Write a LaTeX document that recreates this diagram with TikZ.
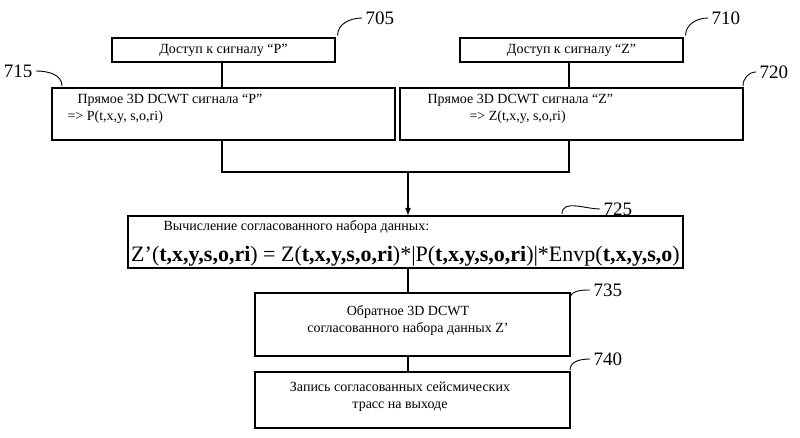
\documentclass[tikz,border=0pt]{standalone}
\usepackage{fontspec}
\setmainfont{Liberation Serif}
\newcommand{\sq}{\char"0027\relax}
\begin{document}
\begin{tikzpicture}[x=1pt,y=-1pt,
  box/.style={draw,line width=1.1pt,inner sep=0pt},
  ln/.style={line width=1.6pt},
  lbl/.style={font=\fontsize{19}{19}\selectfont},
  lead/.style={line width=0.9pt},
  txt/.style={font=\fontsize{14}{17}\selectfont,align=left}]
\useasboundingbox (0,0) rectangle (800,438);
\node[box,minimum width=223pt,minimum height=24pt] (b705) at (223.5,50) {};
\node[txt] at (b705) {Доступ к сигналу “P”};
\node[box,minimum width=223pt,minimum height=24pt] (b710) at (571.5,50) {};
\node[txt] at (b710) {Доступ к сигналу “Z”};
\node[box,minimum width=343pt,minimum height=52pt] (b715) at (223.5,114) {};
\node[txt,anchor=north west] at (64,91) {\hspace{10pt}Прямое 3D DCWT сигнала “P”\\=> P(t,x,y, s,o,ri)};
\node[box,minimum width=343pt,minimum height=52pt] (b720) at (571.5,114) {};
\node[txt,anchor=north west] at (424,91) {Прямое 3D DCWT сигнала “Z”\\\hspace{42pt}=> Z(t,x,y, s,o,ri)};
\node[box,minimum width=555pt,minimum height=52pt] (b725) at (405.5,242) {};
\node[txt,anchor=north west] at (160,217) {Вычисление согласованного набора данных:};
\node[font=\fontsize{22}{22}\selectfont] at (405.5,256) {Z\sq(\textbf{t,x,y,s,o,ri}) = Z(\textbf{t,x,y,s,o,ri})*|P(\textbf{t,x,y,s,o,ri})|*Envp(\textbf{t,x,y,s,o})};
\node[box,minimum width=315pt,minimum height=63pt] (b735) at (412.5,324.5) {};
\node[txt,align=center] at (408,320) {Обратное 3D DCWT\\согласованного набора данных Z\sq};
\node[box,minimum width=315pt,minimum height=56pt] (b740) at (412.5,400) {};
\node[txt,align=center] at (400,397) {Запись согласованных сейсмических\\трасс на выходе};
% connectors
\coordinate (jl) at (222,172); \coordinate (jr) at (569,172); \coordinate (jm) at (408,172);
\draw[ln] (b705.south -| 222,0) -- (b715.north -| 222,0);
\draw[ln] (b710.south -| 569,0) -- (b720.north -| 569,0);
\draw[ln] (b715.south -| 222,0) -- (jl) -- (jr) -- (b720.south -| 569,0);
\draw[ln,-latex] (jm) -- (b725.north -| jm);
\draw[ln] (b725.south -| jm) -- (b735.north -| jm);
\draw[ln] (b735.south -| jm) -- (b740.north -| jm);
% labels
\node[lbl,anchor=west] (l705) at (362,18) {705};
\draw[lead] (b705.north east) ++(2,-2) to[out=90,in=180] (l705.west);
\node[lbl,anchor=west] (l710) at (708,18) {710};
\draw[lead] (b710.north east) ++(2,-2) to[out=90,in=180] (l710.west);
\node[lbl,anchor=east] (l715) at (36,71) {715};
\draw[lead] (l715.east) to[out=0,in=90] (62,86);
\node[lbl,anchor=west] (l720) at (756,72) {720};
\draw[lead] (743,86) to[out=90,in=180] (l720.west);
\node[lbl,anchor=west] (l725) at (600,209) {725};
\draw[lead] (562,214) to[out=90,in=180] (l725.west);
\node[lbl,anchor=west] (l735) at (590,290) {735};
\draw[lead] (570,299) to[out=90,in=180] (l735.west);
\node[lbl,anchor=west] (l740) at (590,359) {740};
\draw[lead] (570,370) to[out=90,in=180] (l740.west);
\end{tikzpicture}
\end{document}
